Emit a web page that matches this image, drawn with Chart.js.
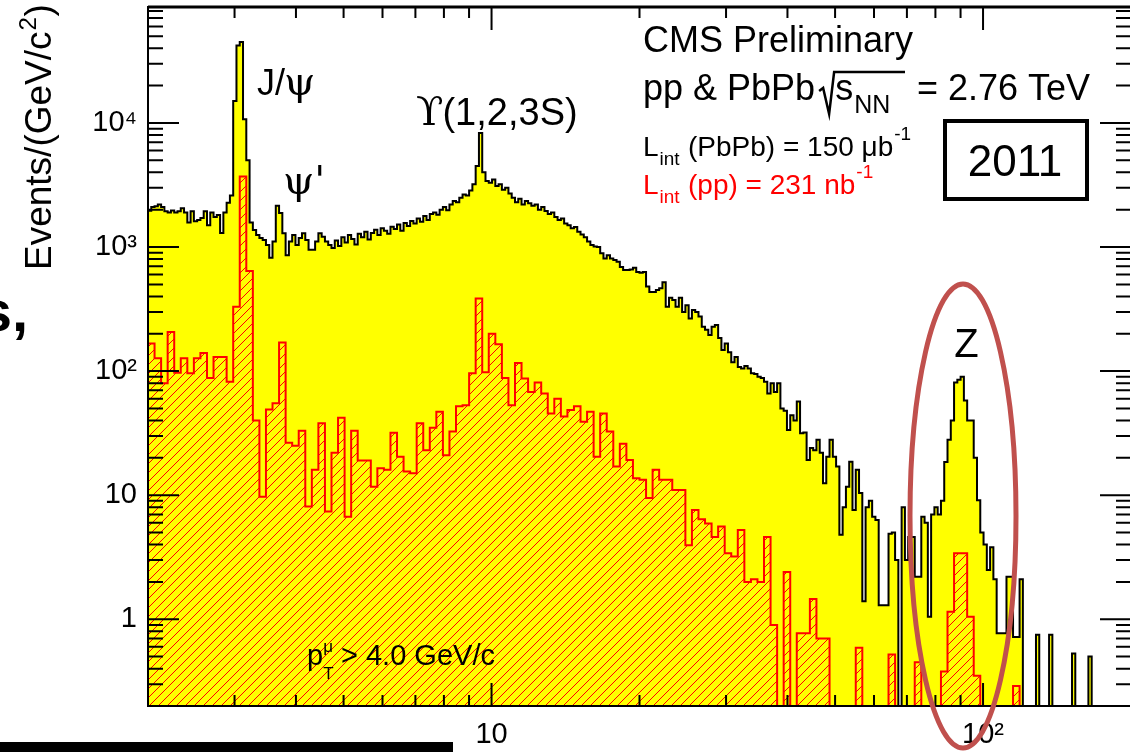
<!DOCTYPE html>
<html lang="en">
<head>
  <meta charset="UTF-8" />
  <title>Dimuon invariant mass — PbPb and pp, 2.76 TeV</title>
  <script src="https://cdn.jsdelivr.net/npm/chart.js"></script>
  <style>
    html, body { margin: 0; padding: 0; background: #fff; overflow: hidden; }
    #wrap { position: relative; width: 1130px; height: 752px; overflow: hidden; }
    canvas { display: block; }
  </style>
</head>
<body>
  <div id="wrap"><canvas id="massChart" width="1132" height="752"></canvas></div>

  <script>
    // histogram range (GeV/c^2), log-spaced bins
    const massMin = 2;
    const massMax = 200;
    const yMin = 0.2;
    const yMax = 86000;

    const xLabelTicks = [10, 100];
    const xTickText = { 10: '10', 100: '10²' };
    const yLabelTicks = [1, 10, 100, 1000, 10000];
    const yTickText = { 1: '1', 10: '10', 100: '10²', 1000: '10³', 10000: '10⁴' };

    // PbPb, 300 bins, events/(GeV/c^2)
    const pbpbCounts = [
      1960, 2100, 2130, 2200, 2100, 1940, 1900, 1970, 1900, 1940,
      2050, 1900, 1580, 1940, 1610, 1650, 1710, 1940, 1500, 1900,
      1750, 1810, 1300, 1900, 2270, 2600, 15000, 42000, 45000, 10700,
      5000, 1580, 1370, 1250, 1180, 1140, 1040, 820, 1110, 2150,
      1880, 1290, 860, 1110, 1250, 1040, 1180, 1290, 1140, 950,
      950, 1110, 1290, 1210, 1110, 1040, 980, 1130, 1020, 1200,
      1090, 1250, 1160, 1050, 1280, 1200, 1330, 1150, 1300, 1380,
      1250, 1420, 1350, 1280, 1460, 1400, 1520, 1350, 1560, 1480,
      1620, 1550, 1700, 1600, 1780, 1650, 1850, 1900, 1820, 2000,
      2100, 1980, 2200, 2350, 2300, 2500, 2650, 2600, 2850, 3200,
      4500, 8300, 4000, 3400, 3300, 3500, 3100, 3200, 2900, 3000,
      2700, 2500, 2300, 2450, 2200, 2350, 2250, 2150, 2200, 2000,
      2100, 1950, 1850, 1900, 1750, 1650, 1700, 1550, 1500, 1420,
      1450, 1330, 1260, 1200, 1110, 1040, 1010, 1000, 890, 810,
      860, 810, 786, 760, 690, 653, 653, 660, 680, 630,
      620, 630, 480, 435, 435, 451, 465, 520, 330, 390,
      374, 330, 390, 300, 340, 265, 311, 300, 275, 228,
      215, 195, 228, 235, 185, 148, 167, 142, 118, 130,
      108, 105, 110, 105, 96, 95, 90, 88, 82, 66,
      80, 68, 80, 50, 48, 33.5, 44, 40, 57, 31.5,
      32, 19.2, 24, 23, 28, 22, 12.5, 20.4, 28, 20.4,
      17, 4.8, 8, 11.7, 18.6, 7.6, 16, 10.4, 1.4, 8,
      9, 6.7, 6.3, 1.3, 1.3, 1.3, 4.9, 5, 3, 0,
      8, 3, 4.6, 4.6, 2.2, 2.2, 6.7, 6, 1.05, 7,
      8, 7, 9, 18.5, 28, 40, 81, 85, 90, 58,
      40, 40, 20, 9.1, 5, 4, 2.5, 3.8, 2.1, 0.77,
      0.77, 0.77, 2.2, 2.2, 0.72, 0.72, 2.1, 0, 0, 0,
      0, 0.75, 0, 0, 0, 0.75, 0, 0, 0, 0,
      0, 0, 0.53, 0, 0, 0, 0, 0.5, 0, 0,
      0, 0, 0, 0, 0, 0, 0, 0, 0, 0
    ];

    // pp, 150 bins over the same range
    const ppCounts = [
      167, 127, 80, 207, 97, 127, 96, 127, 140, 88,
      130, 130, 82, 330, 3700, 640, 40, 9.7, 49, 55,
      170, 26.5, 25, 33, 8.1, 16, 38, 7.4, 22, 42,
      6.7, 33, 19, 19, 11.7, 16.5, 16, 31.8, 20.4, 15.5,
      15, 38, 23, 35, 47, 21, 32.6, 52, 53, 96,
      385, 98, 200, 165, 88, 53, 116, 87, 68, 81,
      66, 45.6, 60, 43, 48.5, 52, 39, 47, 20.4, 45.6,
      32.6, 17, 26, 19.2, 13.7, 13.3, 9.5, 16, 13.3, 13.3,
      11, 11, 3.95, 7.6, 6.4, 5.9, 4.6, 5.6, 3.4, 3.2,
      5.25, 2, 2.1, 2, 4.6, 0.9, 0, 2.4, 0, 0.77,
      0.77, 1.46, 0.7, 0.7, 0, 0, 0, 0, 0.59, 0,
      0, 0, 0, 0.52, 0, 0, 0, 0.45, 0, 0,
      0, 0.38, 1.15, 3.4, 3.4, 1.05, 0.35, 0, 0, 0,
      0, 0, 0.29, 0, 0, 0, 0, 0, 0, 0,
      0, 0, 0, 0, 0, 0, 0, 0, 0, 0
    ];

    const FONT = '"Liberation Sans", Arial, Helvetica, sans-serif';
    const GREEK = '"DejaVu Serif", serif';

    // step points at the low edge of each bin; empty bins sit on the axis floor
    function histPoints(counts) {
      const n = counts.length;
      const edge = i => massMin * Math.pow(massMax / massMin, i / n);
      const pts = counts.map((v, i) => ({ x: edge(i), y: v > 0 ? v : yMin }));
      pts.push({ x: edge(n), y: counts[n - 1] > 0 ? counts[n - 1] : yMin });
      return pts;
    }

    const canvas = document.getElementById('massChart');

    // ROOT-style "/" hatching
    function hatch(color, size) {
      const c = document.createElement('canvas');
      c.width = c.height = size;
      const g = c.getContext('2d');
      g.strokeStyle = color;
      g.lineWidth = 1;
      g.beginPath();
      g.moveTo(0, size); g.lineTo(size, 0);
      g.moveTo(-1, 1); g.lineTo(1, -1);
      g.moveTo(size - 1, size + 1); g.lineTo(size + 1, size - 1);
      g.stroke();
      return canvas.getContext('2d').createPattern(c, 'repeat');
    }

    function put(ctx, str, x, y, size, color, bold, align, family) {
      ctx.font = (bold ? 'bold ' : '') + size + 'px ' + (family || FONT);
      ctx.fillStyle = color || '#000';
      ctx.textAlign = align || 'left';
      ctx.textBaseline = 'alphabetic';
      ctx.fillText(str, x, y);
      return x + ctx.measureText(str).width;
    }

    // frame with inward ticks on all four sides
    const frame = {
      id: 'frame',
      afterDatasetsDraw(chart) {
        const { ctx, chartArea: a, scales: { x, y } } = chart;
        ctx.save();
        ctx.strokeStyle = '#000';
        ctx.lineWidth = 2;
        ctx.strokeRect(a.left, a.top, a.right - a.left, a.bottom - a.top);
        ctx.lineWidth = 3;
        ctx.beginPath();
        ctx.moveTo(a.left, a.top); ctx.lineTo(a.right, a.top);
        ctx.stroke();

        ctx.lineWidth = 2;
        ctx.beginPath();
        for (let d = -1; d <= 4; d++) {
          for (let k = 1; k <= 9; k++) {
            const v = k * Math.pow(10, d);
            if (v <= yMin * 1.001 || v >= yMax) continue;
            const py = y.getPixelForValue(v);
            const len = k === 1 ? 31 : 15;
            ctx.moveTo(a.left, py); ctx.lineTo(a.left + len, py);
            ctx.moveTo(a.right, py); ctx.lineTo(a.right - len, py);
          }
        }
        for (let d = 0; d <= 2; d++) {
          for (let k = 1; k <= 9; k++) {
            const v = k * Math.pow(10, d);
            if (v <= massMin * 1.001 || v >= massMax * 0.999) continue;
            const px = x.getPixelForValue(v);
            const len = k === 1 ? 23 : 11;
            ctx.moveTo(px, a.bottom); ctx.lineTo(px, a.bottom - len);
            ctx.moveTo(px, a.top); ctx.lineTo(px, a.top + len);
          }
        }
        ctx.stroke();
        ctx.restore();
      },
      afterDraw(chart) {
        const ctx = chart.ctx;
        const x = chart.scales.x;
        ctx.save();

        // y title
        ctx.save();
        ctx.translate(51, 270);
        ctx.rotate(-Math.PI / 2);
        let w = put(ctx, 'Events/(GeV/c', 0, 0, 37);
        put(ctx, '2', w + 1, -15, 24);
        put(ctx, ')', w + 15, 0, 37);
        ctx.restore();

        // resonance labels
        let cx = put(ctx, 'J/', 257, 95, 36);
        put(ctx, 'ψ', cx - 1, 95, 40, '#000', false, 'left', GREEK);
        put(ctx, 'ψ\'', 283, 194, 40, '#000', false, 'left', GREEK);
        cx = put(ctx, 'ϒ', 416, 125, 40, '#000', false, 'left', GREEK);
        put(ctx, '(1,2,3S)', cx - 1, 125, 38);
        put(ctx, 'Z', x.getPixelForValue(91.2) + 3, 357, 40, '#000', false, 'center');

        // experiment block
        put(ctx, 'CMS Preliminary', 643, 52, 36);
        cx = put(ctx, 'pp & PbPb', 643, 100, 36);
        ctx.strokeStyle = '#000';
        ctx.lineWidth = 2.5;
        ctx.beginPath();
        ctx.moveTo(cx + 4, 91);
        ctx.lineTo(cx + 8, 88);
        ctx.lineTo(cx + 14, 114);
        ctx.lineTo(cx + 19, 72);
        ctx.lineTo(905, 72);
        ctx.stroke();
        cx = put(ctx, 's', cx + 20, 100, 36);
        put(ctx, 'NN', cx + 1, 113, 25);
        put(ctx, '= 2.76 TeV', 917, 100, 36);

        cx = put(ctx, 'L', 643, 156, 28);
        put(ctx, 'int', cx + 1, 165, 19);
        cx = put(ctx, '(PbPb) = 150 μb', 688, 156, 28);
        put(ctx, '-1', cx + 1, 140, 19);

        cx = put(ctx, 'L', 643, 194, 28, '#ff0000');
        put(ctx, 'int', cx + 1, 203, 19, '#ff0000');
        cx = put(ctx, '(pp) = 231 nb', 688, 194, 28, '#ff0000');
        put(ctx, '-1', cx + 1, 178, 19, '#ff0000');

        // year box
        ctx.lineWidth = 4;
        ctx.strokeRect(945, 121, 142, 78);
        put(ctx, '2011', 1015, 176, 44, '#000', false, 'center');

        // muon pT cut
        cx = put(ctx, 'p', 307, 665, 29);
        put(ctx, 'μ', cx, 652, 17);
        put(ctx, 'T', cx, 679, 17);
        put(ctx, '> 4.0 GeV/c', 341, 665, 29);

        // slide leftovers around the plot
        put(ctx, 's,', 28, 331, 58, '#000', true, 'right');
        ctx.fillStyle = '#000';
        ctx.fillRect(0, 742, 453, 12);

        // highlight around the Z peak
        ctx.strokeStyle = '#c0504d';
        ctx.lineWidth = 5;
        ctx.beginPath();
        ctx.ellipse(963, 516, 53, 232, 0, 0, Math.PI * 2);
        ctx.stroke();

        ctx.restore();
      }
    };

    new Chart(canvas, {
      type: 'line',
      data: {
        datasets: [
          {
            label: 'PbPb',
            data: histPoints(pbpbCounts),
            stepped: true,
            fill: 'start',
            backgroundColor: '#ffff00',
            borderColor: '#000000',
            borderWidth: 2,
            pointRadius: 0,
            order: 2
          },
          {
            label: 'pp',
            data: histPoints(ppCounts),
            stepped: true,
            fill: 'start',
            backgroundColor: hatch('#ff0000', 9),
            borderColor: '#ff0000',
            borderWidth: 2,
            pointRadius: 0,
            order: 1
          }
        ]
      },
      options: {
        responsive: false,
        animation: false,
        events: [],
        layout: { padding: { top: 7, right: 1, left: 0, bottom: 0 } },
        plugins: { legend: { display: false }, tooltip: { enabled: false } },
        scales: {
          x: {
            type: 'logarithmic',
            position: 'bottom',
            min: massMin,
            max: massMax,
            grid: { display: false, drawTicks: false },
            border: { display: false },
            ticks: {
              autoSkip: false,
              maxRotation: 0,
              minRotation: 0,
              padding: 12,
              color: '#000',
              font: { family: FONT, size: 29 },
              callback: v => xTickText[v] || ''
            },
            afterBuildTicks: s => { s.ticks = xLabelTicks.map(v => ({ value: v })); },
            afterFit: s => { s.height = 46; s.paddingLeft = 0; s.paddingRight = 0; }
          },
          y: {
            type: 'logarithmic',
            position: 'left',
            min: yMin,
            max: yMax,
            grid: { display: false, drawTicks: false },
            border: { display: false },
            ticks: {
              autoSkip: false,
              padding: 11,
              color: '#000',
              font: { family: FONT, size: 29 },
              callback: v => yTickText[v] || ''
            },
            afterBuildTicks: s => { s.ticks = yLabelTicks.map(v => ({ value: v })); },
            afterFit: s => { s.width = 148; s.paddingTop = 0; s.paddingBottom = 0; }
          }
        }
      },
      plugins: [frame]
    });
  </script>
</body>
</html>
